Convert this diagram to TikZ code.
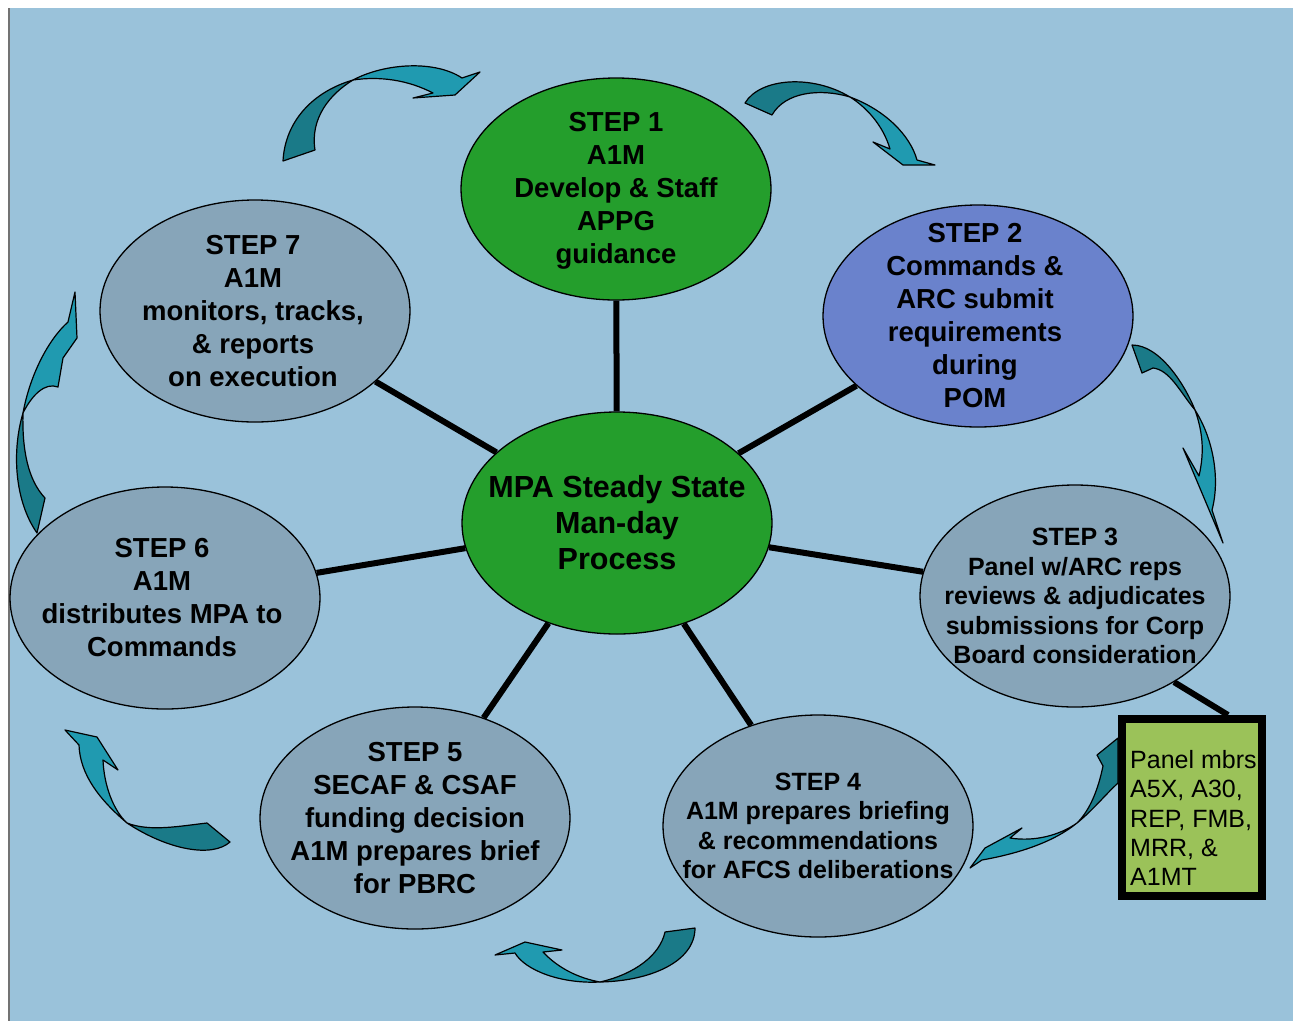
\documentclass[tikz,border=0pt]{standalone}
\usepackage{fontspec}
\setmainfont{Liberation Sans}
\usetikzlibrary{shapes.geometric}
\definecolor{bgblue}{RGB}{154,194,218}
\definecolor{stepgreen}{RGB}{36,158,44}
\definecolor{stepblue}{RGB}{106,130,204}
\definecolor{stepgray}{RGB}{135,165,185}
\definecolor{boxgreen}{RGB}{155,194,89}
\definecolor{tealdark}{RGB}{26,122,136}
\definecolor{teallight}{RGB}{32,154,176}
\begin{document}
\begin{tikzpicture}[x=1pt,y=-1pt,
  stepell/.style={ellipse, draw=black, line width=1.3pt, minimum width=310pt, minimum height=222pt, inner sep=0pt},
  steptext/.style={align=center, inner sep=0pt, font=\fontsize{27.5}{33}\selectfont\bfseries},
  smalltext/.style={align=center, inner sep=0pt, font=\fontsize{25}{29.5}\selectfont\bfseries},
  centertext/.style={align=center, inner sep=0pt, font=\fontsize{30.5}{36}\selectfont\bfseries},
  link/.style={line width=6pt, black},
  ribdark/.style={fill=tealdark, draw=black, line width=1.2pt, line join=round},
  riblight/.style={fill=teallight, draw=black, line width=1.2pt, line join=round}]
\useasboundingbox (0,0) rectangle (1293,1021);
\fill[bgblue] (8,8) rectangle (1293,1021);
\draw[black!55, line width=2pt] (9,8) -- (9,1021);

% ellipses
\node[stepell, fill=stepgreen] (s1) at (616,189) {};
\node[stepell, fill=stepblue] (s2) at (978,316) {};
\node[stepell, fill=stepgray] (s3) at (1075,596) {};
\node[stepell, fill=stepgray] (s4) at (818,826) {};
\node[stepell, fill=stepgray] (s5) at (415,818) {};
\node[stepell, fill=stepgray] (s6) at (165,598) {};
\node[stepell, fill=stepgray] (s7) at (255,311) {};
\node[stepell, fill=stepgreen] (c) at (617,523) {};

% connectors
\foreach \s in {s1,s2,s3,s4,s5,s6,s7} \draw[link] (c) -- (\s);

% panel box
\node[draw=black, line width=8pt, fill=boxgreen, minimum width=140pt, minimum height=177pt, inner sep=0pt] (box) at (1192,807.5) {};
\coordinate (boxjoin) at (1228,715);
\draw[link] (s3.-41) -- (boxjoin);
\node[anchor=west, align=left, inner sep=0pt, font=\fontsize{25}{29.3}\selectfont] (boxt) at (1130,818) {Panel mbrs\\A5X, A30,\\REP, FMB,\\MRR, \&\\A1MT};

% texts
\node[steptext] (t1) at ([yshift=-2pt]s1.center) {STEP 1\\A1M\\Develop \& Staff\\APPG\\guidance};
\node[steptext] (t2) at ([xshift=-3pt]s2.center) {STEP 2\\Commands \&\\ARC submit\\requirements\\during\\POM};
\node[smalltext] (t3) at (s3.center) {STEP 3\\Panel w/ARC reps\\reviews \& adjudicates\\submissions for Corp\\Board consideration};
\node[smalltext] (t4) at (s4.center) {STEP 4\\A1M prepares briefing\\\& recommendations\\for AFCS deliberations};
\node[steptext] (t5) at (s5.center) {STEP 5\\SECAF \& CSAF\\funding decision\\A1M prepares brief\\for PBRC};
\node[steptext] (t6) at ([xshift=-3pt]s6.center) {STEP 6\\A1M\\distributes MPA to\\Commands};
\node[steptext] (t7) at ([xshift=-2pt]s7.center) {STEP 7\\A1M\\monitors, tracks,\\\& reports\\on execution};
\node[centertext] (ct) at (c.center) {MPA Steady State\\Man-day\\Process};

% curved arrows
% A: step 7 -> step 1
\draw[ribdark] (283,161) .. controls (285,122) and (312,92) .. (353,80) .. controls (330,94) and (310,118) .. (315,150) -- cycle;
\draw[riblight] (353,80) .. controls (385,63) and (435,60) .. (462,78) -- (480,72) -- (455,95) -- (413,98) -- (433,93) .. controls (408,80) and (380,76) .. (353,80) -- cycle;
% B: step 1 -> step 2
\draw[ribdark] (745,103) .. controls (760,78) and (812,74) .. (850,97) .. controls (820,88) and (785,92) .. (772,115) -- cycle;
\draw[riblight] (850,97) .. controls (885,110) and (910,135) .. (917,160) -- (935,165) -- (903,165) -- (873,142) -- (890,149) .. controls (883,125) and (866,107) .. (850,97) -- cycle;
% C: step 2 -> step 3
\draw[ribdark] (1132,345) .. controls (1160,345) and (1185,385) .. (1195,410) .. controls (1180,392) and (1170,370) .. (1153,368) -- (1142,373) -- cycle;
\draw[riblight] (1195,410) .. controls (1214,440) and (1220,480) .. (1212,510) -- (1223,543) -- (1183,448) -- (1199,476) .. controls (1205,450) and (1202,430) .. (1195,410) -- cycle;
% D: panel box -> step 4
\draw[ribdark] (1118,738) -- (1097,755) -- (1103,766) .. controls (1098,790) and (1090,810) .. (1077,823) .. controls (1093,810) and (1105,795) .. (1118,783) -- cycle;
\draw[riblight] (1077,823) .. controls (1050,845) and (1010,855) .. (982,860) -- (970,868) -- (985,848) -- (1022,828) -- (1010,838) .. controls (1035,842) and (1060,835) .. (1077,823) -- cycle;
% E: step 4 -> step 5
\draw[ribdark] (695,928) .. controls (695,962) and (650,981) .. (600,982) .. controls (635,974) and (660,955) .. (665,932) -- cycle;
\draw[riblight] (600,982) .. controls (560,984) and (525,970) .. (515,953) -- (495,955) -- (525,942) -- (562,950) -- (543,952) .. controls (558,968) and (578,978) .. (600,982) -- cycle;
% F: step 5 -> step 6
\draw[ribdark] (230,842) .. controls (212,858) and (168,850) .. (127,823) .. controls (150,832) and (180,826) .. (207,823) -- cycle;
\draw[riblight] (127,823) .. controls (100,800) and (80,775) .. (79,745) -- (65,730) -- (97,737) -- (118,770) -- (103,760) .. controls (104,785) and (113,810) .. (127,823) -- cycle;
% G: step 6 -> step 7
\draw[ribdark] (37,533) .. controls (14,500) and (12,450) .. (23,413) .. controls (22,450) and (28,480) .. (45,498) -- cycle;
\draw[riblight] (23,413) .. controls (30,375) and (48,340) .. (68,322) -- (75,292) -- (77,338) -- (63,358) -- (58,387) .. controls (45,382) and (32,395) .. (23,413) -- cycle;
\end{tikzpicture}
\end{document}
